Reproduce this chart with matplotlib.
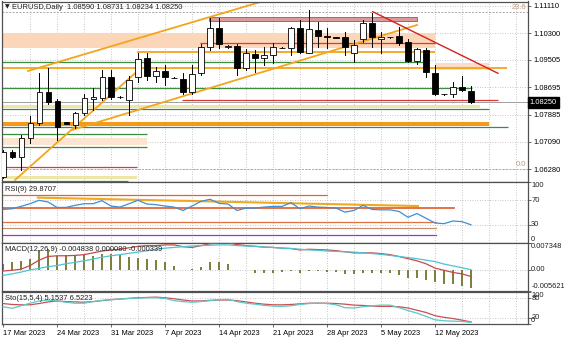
import numpy as np
import matplotlib.pyplot as plt

plt.rcParams['font.family'] = ['Liberation Sans', 'DejaVu Sans']

W, H = 564, 338

# daily candles, Fri 17 Mar 2023 -> Wed 17 May 2023 (Sunday bars included)
opens = [1.0606, 1.0679, 1.0664, 1.0720, 1.0764, 1.0856, 1.0829, 1.0766, 1.0758, 1.0794,
         1.0835, 1.0838, 1.0900, 1.0841, 1.0832, 1.0900, 1.0956, 1.0903, 1.0918, 1.0898,
         1.0894, 1.0856, 1.0912, 1.0989, 1.1045, 1.0989, 1.0992, 1.0927, 1.0968, 1.0956,
         1.0965, 1.0986, 1.0986, 1.1045, 1.0971, 1.1039, 1.1021, 1.1018, 1.1018, 1.0971,
         1.1013, 1.1060, 1.1013, 1.1018, 1.1021, 1.1004, 1.0948, 1.0980, 1.0912, 1.0850,
         1.0850, 1.0871, 1.08590]
highs = [1.0685, 1.0685, 1.0729, 1.0785, 1.0912, 1.0927, 1.0835, 1.0768, 1.0797, 1.0850,
         1.0868, 1.0921, 1.0921, 1.0843, 1.0903, 1.0971, 1.0971, 1.0930, 1.0936, 1.0899,
         1.0912, 1.0936, 1.0998, 1.1075, 1.1075, 1.0995, 1.0998, 1.0983, 1.0980, 1.0989,
         1.1001, 1.0988, 1.1048, 1.1069, 1.1098, 1.1063, 1.1045, 1.1019, 1.1033, 1.1010,
         1.1069, 1.1089, 1.1033, 1.1019, 1.1048, 1.1013, 1.0986, 1.0986, 1.0936, 1.0851,
         1.0886, 1.0903, 1.08731]
lows = [1.0602, 1.0661, 1.0625, 1.0705, 1.0758, 1.0820, 1.0714, 1.0760, 1.0750, 1.0788,
        1.0803, 1.0832, 1.0835, 1.0839, 1.0788, 1.0886, 1.0891, 1.0886, 1.0877, 1.0896,
        1.0850, 1.0850, 1.0906, 1.0980, 1.0986, 1.0987, 1.0906, 1.0921, 1.0915, 1.0935,
        1.0942, 1.0985, 1.0965, 1.0971, 1.0971, 1.0989, 1.0985, 1.1015, 1.0965, 1.0945,
        1.1004, 1.0989, 1.0971, 1.1016, 1.0995, 1.0945, 1.0939, 1.0900, 1.0847, 1.0848,
        1.0841, 1.0859, 1.08234]
closes = [1.0679, 1.0665, 1.0720, 1.0764, 1.0856, 1.0826, 1.0752, 1.0762, 1.0794, 1.0838,
          1.0840, 1.0900, 1.0841, 1.0840, 1.0891, 1.0953, 1.0903, 1.0918, 1.0900, 1.0897,
          1.0856, 1.0909, 1.0989, 1.1045, 1.0998, 1.0992, 1.0927, 1.0971, 1.0956, 1.0965,
          1.0989, 1.0987, 1.1045, 1.0974, 1.1042, 1.1021, 1.1018, 1.1016, 1.0989, 1.0995,
          1.1060, 1.1018, 1.1018, 1.1017, 1.1001, 1.0948, 1.0983, 1.0915, 1.0850, 1.0849,
          1.0871, 1.0862, 1.08250]

date_idx = [0, 6, 12, 18, 24, 30, 36, 42, 48]
date_labels = ['17 Mar 2023', '24 Mar 2023', '31 Mar 2023', '7 Apr 2023', '14 Apr 2023',
               '21 Apr 2023', '28 Apr 2023', '5 May 2023', '12 May 2023']
price_ticks = [1.11110, 1.10300, 1.09505, 1.08695, 1.07885, 1.07090, 1.06280]
bid = 1.08250

rsi = [55.0, 56.1, 60.0, 64.4, 70.0, 67.2, 58.3, 58.3, 61.7, 64.4,
       64.4, 69.4, 60.6, 58.9, 64.4, 70.0, 63.9, 62.8, 60.6, 58.9,
       53.3, 60.6, 68.3, 71.7, 65.0, 63.9, 53.3, 57.2, 57.2, 58.9,
       60.0, 60.0, 66.1, 56.1, 60.6, 58.9, 58.3, 57.2, 50.6, 53.3,
       61.7, 55.0, 54.4, 54.4, 51.7, 42.2, 48.3, 40.6, 32.8, 31.7,
       36.1, 35.0, 29.8707]

macd_hist = [0.0016, 0.00218, 0.00248, 0.00287, 0.00545, 0.00584, 0.00386, 0.00416, 0.00416, 0.00416,
             0.00386, 0.00446, 0.00446, 0.00416, 0.00366, 0.00317, 0.00287, 0.00267, 0.00218, 0.00119,
             0.0001, 0.0002, 0.00089, 0.00218, 0.00218, 0.00168, 0.0001, -0.0001, -0.00079, -0.00079,
             -0.00079, -0.00059, -0.0002, -0.00079, -0.0003, -0.0004, -0.00059, -0.00059, -0.00109, -0.00109,
             -0.00079, -0.00089, -0.00089, -0.00089, -0.00129, -0.00208, -0.00208, -0.00277, -0.00327, -0.00376,
             -0.00376, -0.00426, -0.004838]
macd_red = [-0.0003, -0.0001, 0.0002, 0.00119, 0.00267, 0.00366, 0.00386, 0.00386, 0.00396, 0.00416,
            0.00465, 0.00515, 0.00545, 0.00564, 0.00604, 0.00644, 0.00663, 0.00663, 0.00683, 0.00683,
            0.00634, 0.00614, 0.00663, 0.00713, 0.007348, 0.00734, 0.00693, 0.00663, 0.00644, 0.00624,
            0.00614, 0.00594, 0.00584, 0.00545, 0.00564, 0.00554, 0.00545, 0.00525, 0.00495, 0.00465,
            0.00465, 0.00465, 0.00446, 0.00416, 0.00366, 0.00307, 0.00248, 0.00168, 0.0005, -0.0001,
            -0.00069, -0.00109, -0.00178]
macd_cyan = [-0.00149, -0.00109, -0.00059, 0.0, 0.0004, 0.00089, 0.00119, 0.00168, 0.00208, 0.00248,
             0.00297, 0.00347, 0.00386, 0.00416, 0.00455, 0.00485, 0.00525, 0.00564, 0.00594, 0.00614,
             0.00634, 0.00653, 0.00663, 0.00673, 0.00683, 0.00683, 0.00663, 0.00653, 0.00644, 0.00624,
             0.00614, 0.00594, 0.00584, 0.00564, 0.00545, 0.00535, 0.00515, 0.00505, 0.00495, 0.00485,
             0.00465, 0.00446, 0.00426, 0.00396, 0.00366, 0.00337, 0.00307, 0.00267, 0.00228, 0.0016,
             0.0011, 0.0006, 0.00008]
macd_third = -0.000339

sto_main = [54, 49, 57, 65, 72, 75, 72, 68, 65, 65, 70, 74, 76, 78, 80, 81, 82, 82, 80, 73,
            70, 68, 70, 73, 76, 77, 70, 65, 62, 58, 56, 55, 57, 61, 64, 65, 64, 60, 51, 50,
            54, 57, 59, 59, 51, 42, 34, 24, 13, 10, 9, 8, 5.1537]
sto_signal = [64, 61, 60, 60, 64, 69, 72, 70, 69, 68, 70, 73, 76, 78, 80, 82, 83, 84, 82, 79,
              75, 72, 72, 74, 75, 75, 73, 69, 65, 62, 60, 60, 61, 63, 65, 65, 65, 64, 62, 59,
              58, 56, 55, 55, 54, 50, 43, 36, 26, 21, 17, 12, 6.5223]

n = len(opens)
x = np.arange(n)

GRID = dict(color='#b4b4b4', lw=0.6, ls=(0, (1, 2)))
FS = 5.4


def add_axes(top, bottom):
    a = fig.add_axes([1.5 / W, 1 - bottom / H, 526 / W, (bottom - top) / H])
    a.set_xlim(-0.17, 58.28)
    for s in a.spines.values():
        s.set_color('#505050')
        s.set_linewidth(0.9)
    a.tick_params(axis='x', bottom=False, labelbottom=False)
    a.yaxis.tick_right()
    a.tick_params(axis='y', right=True, left=False, length=2.5, width=0.6,
                  color='#505050', labelsize=FS, pad=1.5)
    for g in range(3, 58, 3):
        a.axvline(g, **GRID, zorder=0)
    return a


fig = plt.figure(figsize=(W / 100, H / 100), dpi=100)
fig.patch.set_facecolor('white')

# ---------------- price window ----------------
ax = add_axes(1.5, 182)
ax.set_ylim(1.05899, 1.11234)
ax.set_yticks(price_ticks)
ax.set_yticklabels(['%.5f' % p for p in price_ticks])
for p in price_ticks:
    ax.axhline(p, **GRID, zorder=0)


def band(x0, x1, y0, y1, fc, ec='none', z=1):
    ax.fill_between([x0, x1], y0, y1, color=fc, ec=ec, lw=0.6, zorder=z)


def hline(y, x0, x1, c, lw=0.9, z=2):
    ax.plot([x0, x1], [y, y], color=c, lw=lw, zorder=z, solid_capstyle='butt')


GREEN = '#3d8b3d'
ORANGE = '#f3a51c'
RED = '#d83a3a'

band(-1, 48, 1.09874, 1.10308, '#fcd6b8')
band(48, 54, 1.09209, 1.09425, '#fcdcc4')
band(-1, 16, 1.06992, 1.07190, '#fde4d0')
band(-1, 53, 1.08077, 1.08175, '#eee6a6')
band(-1, 14.9, 1.05978, 1.06076, '#eee6a6')
band(22.9, 46, 1.10667, 1.10785, '#dc9a9a', ec='#b84a4a')
band(-1, 54, 1.07563, 1.07663, '#f39a1a', z=2)

hline(1.09437, -1, 47.1, GREEN)
hline(1.08668, -1, 52.1, GREEN)
hline(1.08048, -1, 54, GREEN)
hline(1.07533, -1, 56.1, GREEN)
hline(1.07309, -1, 16, GREEN)
hline(1.06924, -1, 16, GREEN)
hline(1.05937, -1, 13.9, GREEN)
hline(1.09254, -1, 56, ORANGE, lw=1.3)
hline(1.09727, 14.9, 48, ORANGE, lw=1.3)
hline(1.10016, 21.9, 48, RED)
hline(1.08308, 19.9, 55, RED)
hline(1.06351, -1, 14.9, RED)

# fibo levels
ax.axhline(1.10933, color='#a8a8a8', lw=0.7, ls=(0, (2, 1.5)), zorder=1)
ax.axhline(1.06283, color='#a8a8a8', lw=0.7, ls=(0, (2, 1.5)), zorder=1)
ax.text(58.1, 1.10933 + 0.0002, '23.6', ha='right', va='bottom', fontsize=FS, color='#b89a78')
ax.text(58.1, 1.06283 + 0.0002, '0.0', ha='right', va='bottom', fontsize=FS, color='#b89a78')

# trend lines
ax.plot([2.78, 40], [1.09180, 1.12121], color=ORANGE, lw=1.3, zorder=2)
ax.plot([1.33, 15.2], [1.05958, 1.09239], color=ORANGE, lw=1.3, zorder=2)
ax.plot([7.67, 46], [1.07436, 1.10540], color=ORANGE, lw=1.3, zorder=2)
ax.plot([41.08, 55], [1.10933, 1.09112], color='#d42020', lw=1.0, zorder=2)

# bid line
ax.axhline(bid, color='#a0a0a0', lw=0.7, zorder=1)

# candles
body_w = 0.56
for i in range(n):
    o, h, l, c = opens[i], highs[i], lows[i], closes[i]
    ax.plot([i, i], [l, h], color='black', lw=0.7, zorder=3)
    lo, hi = min(o, c), max(o, c)
    if hi - lo < 0.00006:
        ax.plot([i - body_w / 2, i + body_w / 2], [c, c], color='black', lw=0.9, zorder=4)
    else:
        ax.bar(i, hi - lo, bottom=lo, width=body_w, color='white' if c > o else 'black',
               edgecolor='black', lw=0.6, zorder=4)

ax.text(0.006, 0.985, '\u25bc', transform=ax.transAxes, ha='left', va='top',
        fontsize=FS - 1, color='#202020', family='DejaVu Sans')
ax.text(0.02, 0.985, 'EURUSD,Daily  %.5f %.5f %.5f %.5f' % (opens[-1], highs[-1], lows[-1], closes[-1]),
        transform=ax.transAxes, ha='left', va='top', fontsize=FS, color='#202020')
ax.text(1.004, bid, '%.5f' % bid, transform=ax.get_yaxis_transform(), ha='left', va='center',
        fontsize=FS, color='white', zorder=10,
        bbox=dict(boxstyle='square,pad=0.25', fc='black', ec='black'))


def side_labels(a, items):
    a.set_yticks([v for v, _, _ in items])
    a.set_yticklabels([])
    for v, t, va in items:
        a.text(1.007, v, t, transform=a.get_yaxis_transform(), ha='left', va=va,
               fontsize=FS, color='#202020')


# ---------------- RSI window ----------------
ar = add_axes(182, 243)
ar.set_ylim(0, 100)
for v in (70, 30):
    ar.axhline(v, **GRID, zorder=0)
ar.plot([-1, 36], [79.4, 79.4], color='#e8602c', lw=0.9)
ar.plot([3.87, 46.1], [74.4, 60.6], color='#f2a81e', lw=1.5)
ar.plot([-1, 50.1], [57.8, 57.8], color='#e05a28', lw=1.2)
ar.plot([-1, 48.1], [35, 35], color='#e07040', lw=0.9)
ar.plot([-1, 48.1], [23.9, 23.9], color='#c8906a', lw=0.9)
ar.plot([-1, 48.1], [13.9, 13.9], color='#a03ca8', lw=0.9)
ar.plot(x, rsi, color='#3d8fd6', lw=0.9, zorder=3)
ar.text(0.006, 0.93, 'RSI(9) %.4f' % rsi[-1], transform=ar.transAxes, ha='left', va='top',
        fontsize=FS, color='#202020')
side_labels(ar, [(100, '100', 'top'), (70, '70', 'center'), (30, '30', 'center'), (0, '0', 'bottom')])

# ---------------- MACD window ----------------
am = add_axes(243, 290.5)
am.set_ylim(-0.005621, 0.007348)
am.axhline(0, **GRID, zorder=0)
am.bar(x, macd_hist, width=0.18, color='#7f8040', zorder=2)
am.plot(x, macd_red, color='#c84848', lw=0.9, zorder=3)
am.plot(x, macd_cyan, color='#4cc4d4', lw=0.9, zorder=3)
am.text(0.006, 0.93, 'MACD(12,26,9) %.6f %.6f %.6f' % (macd_hist[-1], macd_cyan[-1], macd_third),
        transform=am.transAxes, ha='left', va='top', fontsize=FS, color='#202020')
side_labels(am, [(0.007348, '0.007348', 'top'), (0, '0.00', 'center'), (-0.005621, '-0.005621', 'bottom')])

# ---------------- Stochastic window ----------------
ast = add_axes(292, 324)
ast.set_ylim(0, 100)
for v in (80, 20):
    ast.axhline(v, **GRID, zorder=0)
ast.plot(x, sto_signal, color='#c85050', lw=0.9, zorder=3)
ast.plot(x, sto_main, color='#5cc8c8', lw=0.9, zorder=3)
ast.text(0.006, 0.9, 'Sto(15,5,4) %.4f %.4f' % (sto_main[-1], sto_signal[-1]),
         transform=ast.transAxes, ha='left', va='top', fontsize=FS, color='#202020')
side_labels(ast, [(100, '100', 'top'), (80, '80', 'center'), (20, '20', 'center'), (0, '0', 'bottom')])

ast.tick_params(axis='x', bottom=True, labelbottom=True, length=2.5, width=0.6,
                color='#505050', labelsize=FS, pad=1.5)
ast.set_xticks(date_idx)
ast.set_xticklabels(date_labels, ha='left')

fig.savefig('out.png', dpi=100, facecolor='white')
